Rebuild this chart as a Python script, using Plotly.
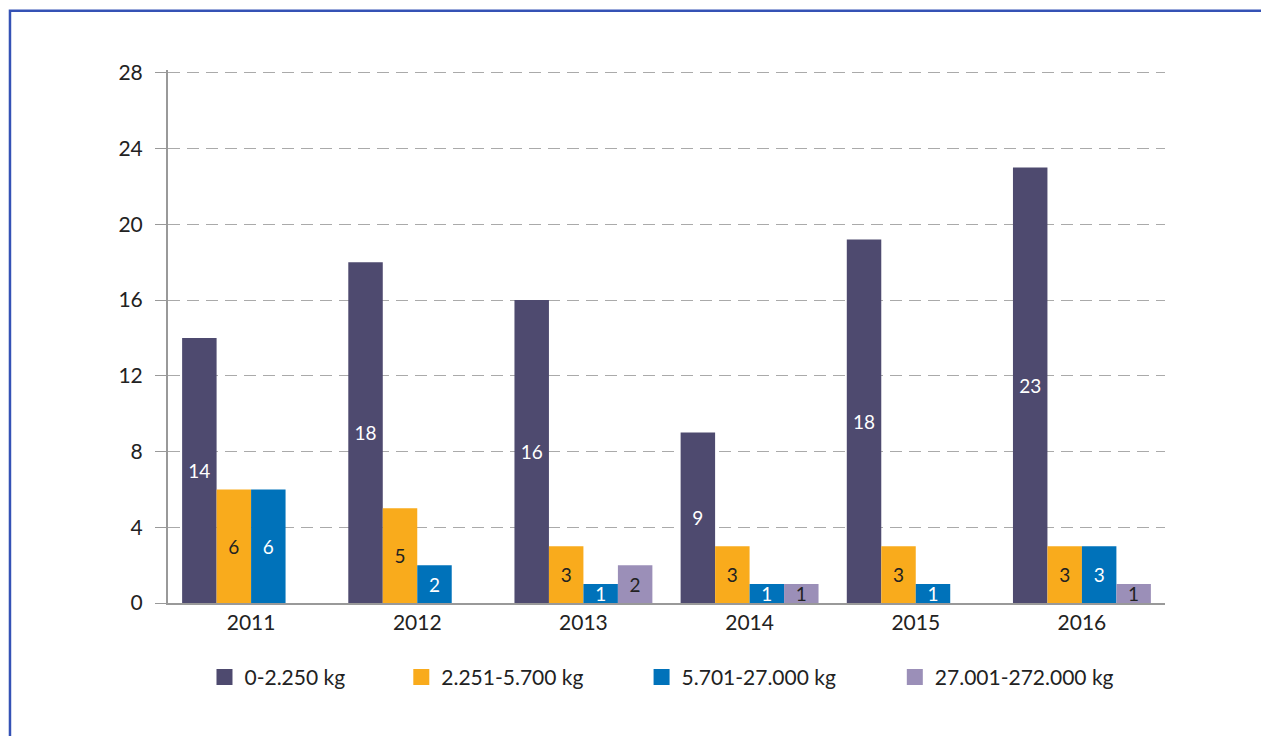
import plotly.graph_objects as go

years = ["2011", "2012", "2013", "2014", "2015", "2016"]
series_names = ["0-2.250 kg", "2.251-5.700 kg", "5.701-27.000 kg", "27.001-272.000 kg"]
colors = ["#4E4A6F", "#F9AB1C", "#0072BA", "#9B8FB8"]
text_colors = ["white", "#222222", "white", "#222222"]

# bar heights as drawn (2015 first bar is drawn a bit above its label)
light = [14, 18, 16, 9, 19.2, 23]
medium = [6, 5, 3, 3, 3, 3]
heavy = [6, 2, 1, 1, 1, 3]
very_heavy = [None, None, 2, 1, None, 1]
# printed labels
light_lbl = ["14", "18", "16", "9", "18", "23"]

values = [light, medium, heavy, very_heavy]
labels = [light_lbl,
          [str(v) for v in medium],
          [str(v) for v in heavy],
          ["" if v is None else str(v) for v in very_heavy]]

legend_x = [0.0366, 0.234, 0.475, 0.729]

fig = go.Figure()
for i, name in enumerate(series_names):
    fig.add_trace(go.Bar(
        x=years, y=values[i], name=name, showlegend=False,
        marker=dict(color=colors[i], line=dict(width=0)),
        text=labels[i], textposition="inside", insidetextanchor="middle",
        textangle=0, textfont=dict(color=text_colors[i], size=19, family="Lato"),
    ))

# legend entries with bigger square swatches
legends = {}
for i, name in enumerate(series_names):
    key = "legend" if i == 0 else f"legend{i+1}"
    fig.add_trace(go.Scatter(
        x=[None], y=[None], mode="markers", name=name, legend=key,
        marker=dict(symbol="square", size=16, color=colors[i], line=dict(width=0)),
        hoverinfo="skip",
    ))
    legends[key] = dict(x=legend_x[i], y=-0.101, xanchor="left", yanchor="top",
                        orientation="h", bgcolor="rgba(0,0,0,0)",
                        font=dict(size=21, color="#222222", family="Lato"))

fig.update_layout(
    width=1261, height=728,
    margin=dict(l=160, r=104, t=62, b=133),
    paper_bgcolor="white", plot_bgcolor="white",
    barmode="group", bargap=0.17, bargroupgap=0,
    font=dict(family="Lato", color="#222222", size=21),
    uniformtext=dict(minsize=19, mode="show"),
    showlegend=True,
    **legends,
)

fig.update_yaxes(
    range=[0, 28.15], tickvals=[0, 4, 8, 12, 16, 20, 24, 28],
    showgrid=True, gridcolor="#AAAAAA", griddash="12px,7px", gridwidth=1,
    showline=True, linecolor="#999999", linewidth=2,
    ticks="outside", ticklen=11, tickcolor="#999999", tickwidth=1,
    zeroline=False, tickfont=dict(size=21), ticklabelstandoff=8,
)
fig.update_xaxes(
    showline=True, linecolor="#999999", linewidth=2,
    ticks="", tickfont=dict(size=21), showgrid=False,
)

# little extension of the y axis below zero
fig.add_shape(type="line", xref="paper", yref="y", x0=0, x1=0,
              ysizemode="pixel", yanchor=0, y0=0, y1=-10,
              line=dict(color="#999999", width=2))
# blue frame (top and left edges visible)
fig.add_shape(type="rect", xref="paper", yref="paper",
              x0=-0.1585, x1=1.3, y0=-0.3, y1=1.111,
              line=dict(color="#3552B5", width=2.5), layer="below")

fig.write_html("out.html")
